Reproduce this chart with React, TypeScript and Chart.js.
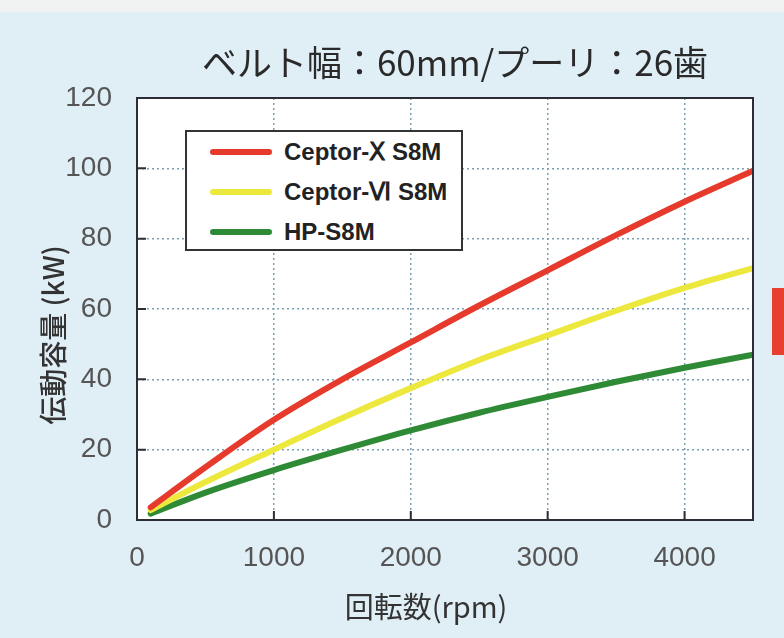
import React, { useEffect, useRef } from "react";
import { Chart, registerables } from "chart.js";

Chart.register(...registerables);

const titleText = "ベルト幅：60mm/プーリ：26歯";
const xAxisTitle = "回転数(rpm)";
const yAxisTitle = "伝動容量 (kW)";
const seriesNames = ["Ceptor-Ⅹ S8M", "Ceptor-Ⅵ S8M", "HP-S8M"];
const seriesColors = ["#e53a2c", "#ede83e", "#2f8a35"];

const rpm = [100, 500, 1000, 1500, 2000, 2500, 3000, 3500, 4000, 4500];
const ceptorX = [3.6, 15.0, 28.5, 40, 50.5, 61, 71, 81, 90.5, 99.3];
const ceptorVI = [2.8, 10.8, 20, 29, 37.5, 45.5, 52.5, 59.5, 66, 71.6];
const hpS8M = [1.8, 7.8, 14.2, 20, 25.5, 30.5, 35, 39.3, 43.3, 47];

const xTicks = [0, 1000, 2000, 3000, 4000];
const yTicks = [0, 20, 40, 60, 80, 100, 120];
const xMin = 0;
const xMax = 4500;
const yMin = 0;
const yMax = 120;

const boxPlugin = {
  id: "boxPlugin",
  beforeDraw(chart: any) {
    const { ctx, chartArea } = chart;
    const { left, top, right, bottom } = chartArea;
    ctx.save();
    ctx.fillStyle = "#ffffff";
    ctx.fillRect(left, top, right - left, bottom - top);
    ctx.restore();
  },
  afterDraw(chart: any) {
    const { ctx, chartArea } = chart;
    const { left, top, right, bottom } = chartArea;
    ctx.save();
    ctx.strokeStyle = "#2d2d35";
    ctx.lineWidth = 2;
    ctx.strokeRect(left, top, right - left, bottom - top);
    const xs = chart.scales.x;
    const ys = chart.scales.y;
    ctx.beginPath();
    xs.ticks.forEach((t: any) => {
      if (t.value > xMin && t.value < xMax) {
        const px = xs.getPixelForValue(t.value);
        ctx.moveTo(px, bottom);
        ctx.lineTo(px, bottom - 9);
      }
    });
    ys.ticks.forEach((t: any) => {
      if (t.value > yMin && t.value < yMax) {
        const py = ys.getPixelForValue(t.value);
        ctx.moveTo(left, py);
        ctx.lineTo(left + 9, py);
      }
    });
    ctx.stroke();
    ctx.restore();
  },
};

export default function App() {
  const ref = useRef<HTMLCanvasElement | null>(null);

  useEffect(() => {
    if (!ref.current) return;
    const seriesValues = [ceptorX, ceptorVI, hpS8M];
    const tickFont = { family: "'Liberation Sans Narrow', 'Liberation Sans', Arial", size: 28 };
    const chart = new Chart(ref.current, {
      type: "line",
      data: {
        datasets: seriesValues.map((vals, i) => ({
          label: seriesNames[i],
          data: rpm.map((r, j) => ({ x: r, y: vals[j] })),
          borderColor: seriesColors[i],
          borderWidth: 6,
          pointRadius: 0,
          tension: 0.4,
          cubicInterpolationMode: "monotone" as const,
          borderCapStyle: "round" as const,
        })),
      },
      options: {
        responsive: false,
        animation: false,
        layout: { padding: { top: 98, right: 31, left: 0, bottom: 0 } },
        plugins: {
          legend: { display: false },
          title: { display: false },
          tooltip: { enabled: false },
        },
        scales: {
          x: {
            type: "linear",
            min: xMin,
            max: xMax,
            ticks: {
              color: "#555",
              padding: 21,
              font: tickFont,
              autoSkip: false,
              maxRotation: 0,
              callback: (v: any) => String(v),
            },
            afterBuildTicks: (s: any) => {
              s.ticks = xTicks.map((v) => ({ value: v }));
            },
            afterFit: (s: any) => {
              s.height = 118;
            },
            grid: { color: "#7c9fb4", lineWidth: 1.5, drawTicks: false },
            border: { display: false, dash: [2, 3] },
          },
          y: {
            type: "linear",
            min: yMin,
            max: yMax,
            ticks: { color: "#555", padding: 25, font: tickFont, autoSkip: false, callback: (v: any) => String(v) },
            afterBuildTicks: (s: any) => {
              s.ticks = yTicks.map((v) => ({ value: v }));
            },
            afterFit: (s: any) => {
              s.width = 137;
            },
            grid: { color: "#7c9fb4", lineWidth: 1.5, drawTicks: false },
            border: { display: false, dash: [2, 3] },
          },
        },
      },
      plugins: [boxPlugin],
    });
    return () => chart.destroy();
  }, []);

  const legendTop = 130;
  return (
    <div
      style={{
        position: "fixed",
        left: 0,
        top: 0,
        width: 784,
        height: 638,
        background: "#e0eef6",
        overflow: "hidden",
        fontFamily: "'Noto Sans CJK JP', 'Noto Sans', sans-serif",
      }}
    >
      <div style={{ position: "absolute", left: 0, top: 0, width: 784, height: 12, background: "#f1f3f3" }} />
      <canvas ref={ref} width={784} height={638} style={{ position: "absolute", left: 0, top: 0, width: 784, height: 638 }} />
      <div
        style={{
          position: "absolute",
          left: 0,
          width: 910,
          top: 36,
          textAlign: "center",
          fontSize: 35,
          color: "#2a2a2a",
          lineHeight: "50px",
          whiteSpace: "nowrap",
        }}
      >
        {titleText}
      </div>
      <div
        style={{
          position: "absolute",
          left: 426 - 150,
          width: 300,
          top: 586,
          textAlign: "center",
          fontSize: 29,
          fontWeight: 400,
          color: "#333",
          lineHeight: "38px",
        }}
      >
        {xAxisTitle}
      </div>
      <div
        style={{
          position: "absolute",
          left: 52 - 150,
          top: 335 - 19,
          width: 300,
          height: 38,
          textAlign: "center",
          fontSize: 28,
          fontWeight: 500,
          color: "#333",
          lineHeight: "38px",
          transform: "rotate(-90deg)",
          whiteSpace: "nowrap",
        }}
      >
        {yAxisTitle}
      </div>
      <div
        style={{
          position: "absolute",
          left: 185,
          top: legendTop,
          width: 274,
          height: 117,
          background: "#fff",
          border: "2px solid #333",
        }}
      >
        {seriesNames.map((n, i) => (
          <div
            key={n}
            style={{ position: "absolute", left: 0, top: 5 + i * 40, height: 30, display: "flex", alignItems: "center" }}
          >
            <div style={{ marginLeft: 23, width: 62, height: 6, borderRadius: 3, background: seriesColors[i] }} />
            <div
              style={{
                marginLeft: 12,
                fontFamily: "'Liberation Sans', Arial, sans-serif",
                fontWeight: 700,
                fontSize: 24,
                color: "#222",
                whiteSpace: "nowrap",
              }}
            >
              {n}
            </div>
          </div>
        ))}
      </div>
      <div style={{ position: "absolute", left: 772, top: 288, width: 12, height: 67, background: "#e8402e" }} />
    </div>
  );
}
